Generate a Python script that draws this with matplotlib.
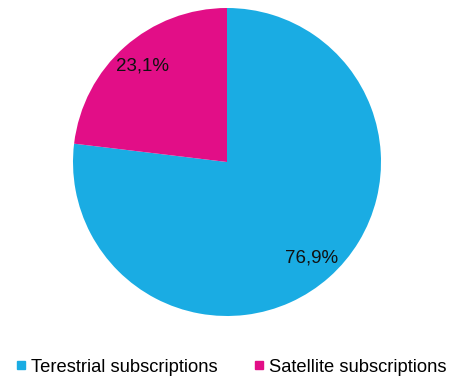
import matplotlib.pyplot as plt
from matplotlib.lines import Line2D

labels = ['Terestrial subscriptions', 'Satellite subscriptions']
values = [76.9, 23.1]
colors = ['#1AACE3', '#E20E87']

plt.rcParams['font.family'] = ['Liberation Sans', 'DejaVu Sans']

fig = plt.figure(figsize=(4.53, 3.76), dpi=100)
ax = fig.add_axes([73 / 453, 60 / 376, 308 / 453, 308 / 376])

ax.pie(values, colors=colors, startangle=90, counterclock=False,
       autopct=lambda p: ('%.1f%%' % p).replace('.', ','),
       pctdistance=0.83, textprops={'fontsize': 13.5, 'color': '#111111'},
       wedgeprops={'linewidth': 0})
ax.set_xlim(-1, 1)
ax.set_ylim(-1, 1)
ax.set_aspect('equal')

# legend at the bottom with small square markers
handles = [Line2D([], [], marker='s', linestyle='', markersize=5.5,
                  markerfacecolor=c, markeredgecolor=c) for c in colors]
fig.legend(handles, labels, loc='center', bbox_to_anchor=(0.51, 9 / 376),
           ncol=2, frameon=False, fontsize=13.2, handlelength=0.5,
           handletextpad=0.3, columnspacing=2.0)

fig.savefig('out.png', dpi=100)
